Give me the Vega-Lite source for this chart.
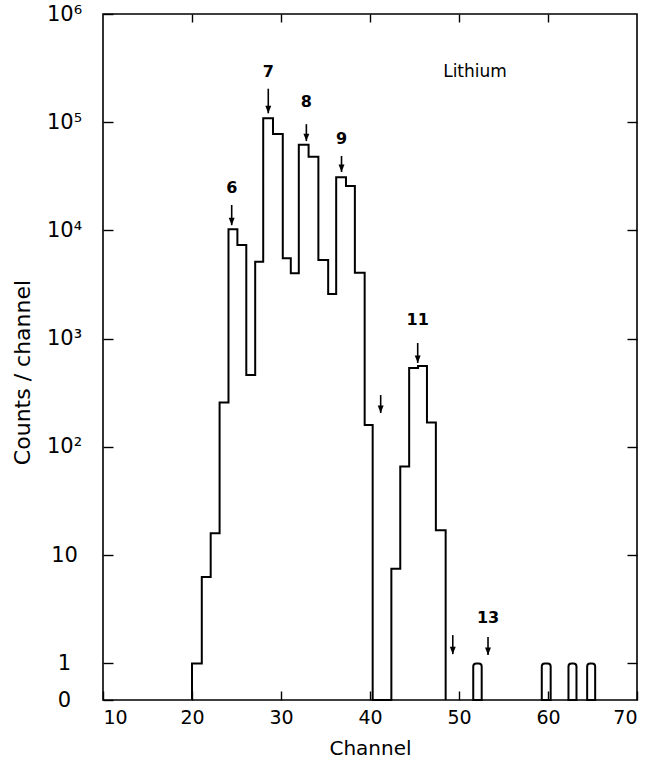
{
  "$schema": "https://vega.github.io/schema/vega-lite/v6.json",
  "width": 534,
  "height": 686,
  "autosize": {"type": "none"},
  "padding": {"left": 103, "top": 14, "right": 17, "bottom": 66},
  "background": "white",
  "config": {
    "view": {"stroke": "black", "strokeWidth": 1.6},
    "font": "DejaVu Sans",
    "axis": {
      "domain": false,
      "grid": false,
      "tickColor": "black",
      "tickWidth": 1.4,
      "labelColor": "black",
      "titleColor": "black",
      "labelFont": "DejaVu Sans",
      "titleFont": "DejaVu Sans",
      "titleFontWeight": "normal"
    }
  },
  "datasets": {
    "hist": [
      {"i": 0, "channel": 20.0, "counts": 0},
      {"i": 1, "channel": 20.0, "counts": 1},
      {"i": 2, "channel": 21.1, "counts": 6.3},
      {"i": 3, "channel": 22.1, "counts": 16},
      {"i": 4, "channel": 23.1, "counts": 257},
      {"i": 5, "channel": 24.1, "counts": 10250},
      {"i": 6, "channel": 25.1, "counts": 7350},
      {"i": 7, "channel": 26.1, "counts": 462},
      {"i": 8, "channel": 27.1, "counts": 5150},
      {"i": 9, "channel": 28.0, "counts": 109000},
      {"i": 10, "channel": 29.1, "counts": 78000},
      {"i": 11, "channel": 30.2, "counts": 5540},
      {"i": 12, "channel": 31.1, "counts": 4030},
      {"i": 13, "channel": 32.0, "counts": 62000},
      {"i": 14, "channel": 33.1, "counts": 48000},
      {"i": 15, "channel": 34.2, "counts": 5340},
      {"i": 16, "channel": 35.3, "counts": 2590},
      {"i": 17, "channel": 36.2, "counts": 31000},
      {"i": 18, "channel": 37.3, "counts": 25800},
      {"i": 19, "channel": 38.3, "counts": 4080},
      {"i": 20, "channel": 39.4, "counts": 160},
      {"i": 21, "channel": 40.3, "counts": 0},
      {"i": 22, "channel": 42.4, "counts": 7.5},
      {"i": 23, "channel": 43.4, "counts": 66},
      {"i": 24, "channel": 44.4, "counts": 537},
      {"i": 25, "channel": 45.4, "counts": 560},
      {"i": 26, "channel": 46.4, "counts": 168},
      {"i": 27, "channel": 47.4, "counts": 17},
      {"i": 28, "channel": 48.5, "counts": 0}
    ],
    "tail": [
      {"start": 51.6, "end": 52.55, "counts": 1},
      {"start": 59.3, "end": 60.3, "counts": 1},
      {"start": 62.3, "end": 63.2, "counts": 1},
      {"start": 64.4, "end": 65.3, "counts": 1}
    ],
    "arrows": [
      {"channel": 24.46, "top": 17200, "tip": 11200},
      {"channel": 28.57, "top": 204000, "tip": 121000},
      {"channel": 32.85, "top": 96000, "tip": 67000},
      {"channel": 36.8, "top": 48800, "tip": 34700},
      {"channel": 41.2, "top": 302, "tip": 206},
      {"channel": 45.36, "top": 914, "tip": 597},
      {"channel": 49.3, "top": 1.83, "tip": 1.22},
      {"channel": 53.26, "top": 1.76, "tip": 1.2}
    ],
    "peaks": [
      {"label": "6", "channel": 24.46, "counts": 24700},
      {"label": "7", "channel": 28.57, "counts": 291000},
      {"label": "8", "channel": 32.85, "counts": 154000},
      {"label": "9", "channel": 36.8, "counts": 70000},
      {"label": "11", "channel": 45.36, "counts": 1490},
      {"label": "13", "channel": 53.26, "counts": 2.63}
    ],
    "note": [
      {"label": "Lithium", "channel": 51.8, "counts": 290000}
    ]
  },
  "layer": [
    {
      "data": {"name": "hist"},
      "mark": {"type": "line", "interpolate": "step-after", "color": "black", "strokeWidth": 2, "invalid": null},
      "encoding": {
        "x": {
          "field": "channel", "type": "quantitative",
          "scale": {"domain": [10, 70], "nice": false, "zero": false},
          "axis": {
            "orient": "bottom",
            "values": [10, 20, 30, 40, 50, 60, 70],
            "tickSize": -9,
            "labelPadding": 17,
            "labelFontSize": 19,
            "labelFlush": true,
            "title": "Channel",
            "titleFontSize": 20,
            "titleY": 48,
            "titleBaseline": "middle"
          }
        },
        "y": {
          "field": "counts", "type": "quantitative",
          "scale": {"type": "log", "domain": [0.46, 1000000], "clamp": true, "nice": false},
          "axis": {
            "orient": "left",
            "values": [0.46, 1, 10, 100, 1000, 10000, 100000, 1000000],
            "tickSize": -10,
            "labelExpr": "datum.value < 0.9 ? '0' : datum.value < 2 ? '1' : datum.value < 20 ? '10' : datum.value < 200 ? '10²' : datum.value < 2000 ? '10³' : datum.value < 20000 ? '10⁴' : datum.value < 200000 ? '10⁵' : '10⁶'",
            "labelAlign": "center",
            "labelBaseline": "middle",
            "labelPadding": 49,
            "labelFontSize": 21,
            "labelFlush": false,
            "labelOverlap": false,
            "title": "Counts / channel",
            "titleFontSize": 22,
            "titleX": -81,
            "titleY": 358,
            "titleBaseline": "middle"
          }
        },
        "order": {"field": "i", "type": "quantitative"}
      }
    },
    {
      "data": {"name": "tail"},
      "mark": {"type": "bar", "fillOpacity": 0, "stroke": "black", "strokeWidth": 2, "cornerRadiusTopLeft": 3, "cornerRadiusTopRight": 3},
      "encoding": {
        "x": {"field": "start", "type": "quantitative", "scale": {"domain": [10, 70], "nice": false, "zero": false}, "axis": null},
        "x2": {"field": "end"},
        "y": {"field": "counts", "type": "quantitative", "scale": {"type": "log", "domain": [0.46, 1000000], "clamp": true, "nice": false}, "axis": null},
        "y2": {"datum": 0.46}
      }
    },
    {
      "data": {"name": "arrows"},
      "mark": {"type": "rule", "color": "black", "strokeWidth": 1.6},
      "encoding": {
        "x": {"field": "channel", "type": "quantitative", "scale": {"domain": [10, 70], "nice": false, "zero": false}, "axis": null},
        "y": {"field": "top", "type": "quantitative", "scale": {"type": "log", "domain": [0.46, 1000000], "clamp": true, "nice": false}, "axis": null},
        "y2": {"field": "tip"}
      }
    },
    {
      "data": {"name": "arrows"},
      "mark": {"type": "point", "shape": "M0,0L-0.4,-1L0.4,-1Z", "filled": true, "color": "black", "opacity": 1, "size": 220},
      "encoding": {
        "x": {"field": "channel", "type": "quantitative", "scale": {"domain": [10, 70], "nice": false, "zero": false}, "axis": null},
        "y": {"field": "tip", "type": "quantitative", "scale": {"type": "log", "domain": [0.46, 1000000], "clamp": true, "nice": false}, "axis": null}
      }
    },
    {
      "data": {"name": "peaks"},
      "mark": {"type": "text", "color": "black", "fontSize": 16, "fontWeight": "bold", "align": "center", "baseline": "middle"},
      "encoding": {
        "x": {"field": "channel", "type": "quantitative", "scale": {"domain": [10, 70], "nice": false, "zero": false}, "axis": null},
        "y": {"field": "counts", "type": "quantitative", "scale": {"type": "log", "domain": [0.46, 1000000], "clamp": true, "nice": false}, "axis": null},
        "text": {"field": "label"}
      }
    },
    {
      "data": {"name": "note"},
      "mark": {"type": "text", "color": "black", "fontSize": 17, "align": "center", "baseline": "middle"},
      "encoding": {
        "x": {
          "field": "channel", "type": "quantitative",
          "scale": {"domain": [10, 70], "nice": false, "zero": false},
          "axis": {"orient": "top", "values": [20, 30, 40, 50, 60], "tickSize": -8, "labels": false, "title": null}
        },
        "y": {
          "field": "counts", "type": "quantitative",
          "scale": {"type": "log", "domain": [0.46, 1000000], "clamp": true, "nice": false},
          "axis": {"orient": "right", "values": [1, 10, 100, 1000, 10000, 100000], "tickSize": -10, "labels": false, "title": null}
        },
        "text": {"field": "label"}
      }
    }
  ]
}
